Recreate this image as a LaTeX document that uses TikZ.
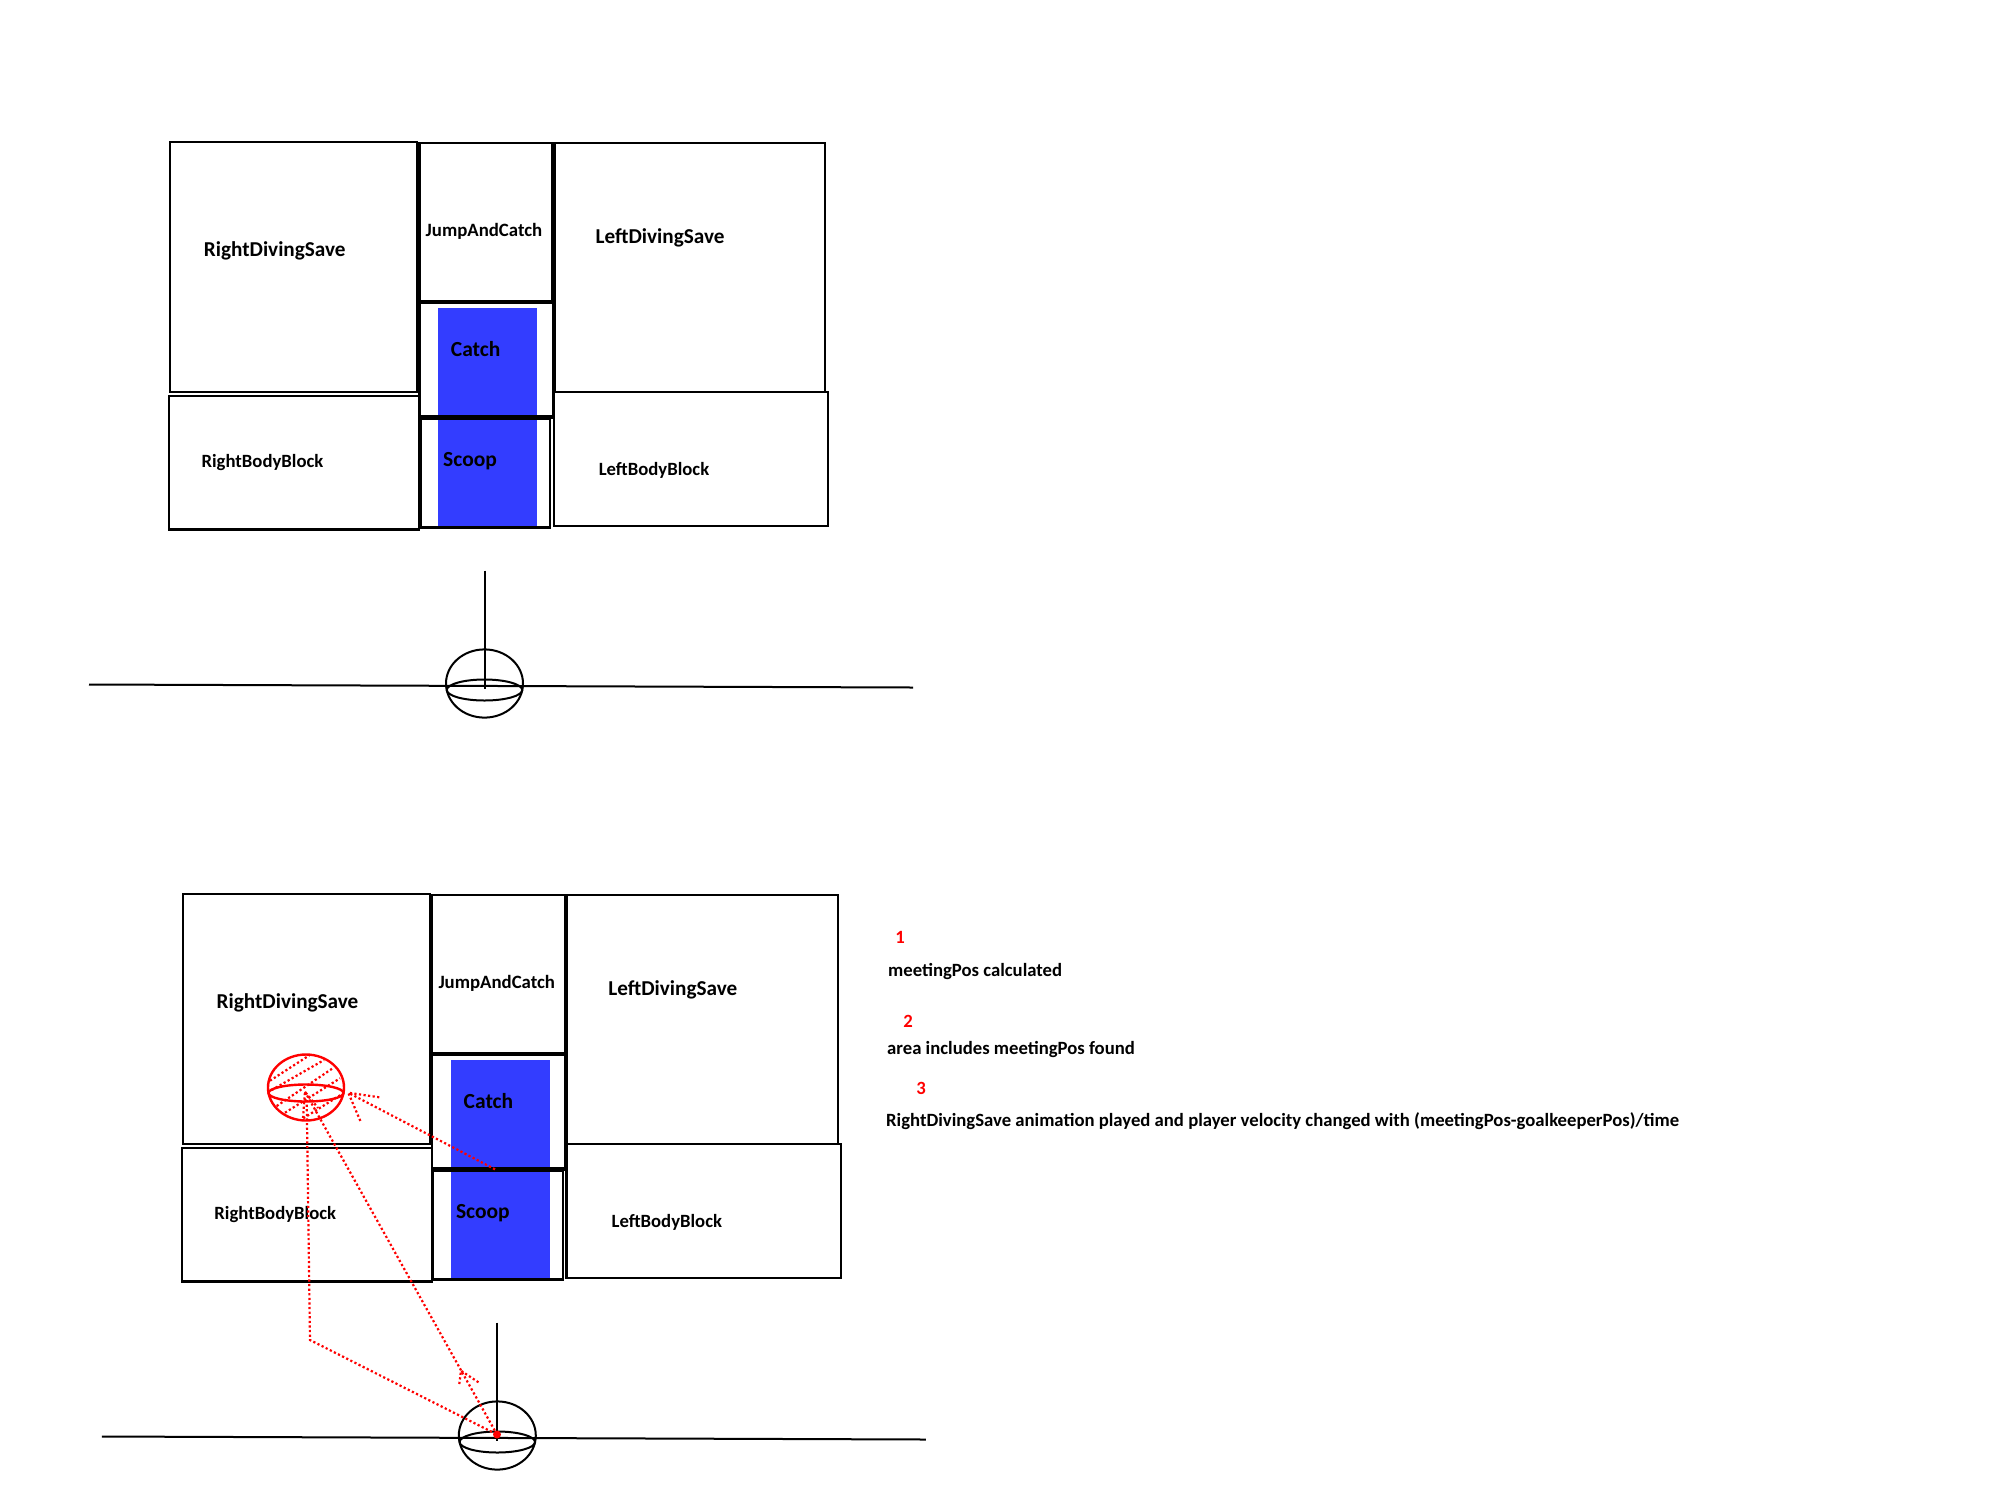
\documentclass[tikz,border=0pt]{standalone}
\usepackage{fontspec}
\setmainfont{Carlito}[BoldFont=Carlito Bold]
\definecolor{goalblue}{RGB}{51,61,255}
\tikzset{
  x=1pt,y=-1pt,
  thinbox/.style={draw=black,line width=2.2pt},
  thickedge/.style={draw=black,line width=4pt},
  ballline/.style={draw=black,line width=2pt},
  redball/.style={draw=red,line width=2.4pt},
  reddots/.style={draw=red,line width=2.2pt,dash pattern=on 2.2pt off 2.4pt},
  lbl/.style={anchor=west,inner sep=0pt,font=\bfseries\fontsize{#1}{#1}\selectfont},
  note/.style={anchor=west,inner sep=0pt,font=\bfseries\fontsize{18.7}{18.7}\selectfont},
  num/.style={anchor=center,inner sep=0pt,text=red,font=\bfseries\fontsize{18.7}{18.7}\selectfont},
}
\newcommand{\goalgroup}{%
  \fill[goalblue] (438,307.5) rectangle (537,528.5);
  \draw[thinbox] (170,141.8) rectangle (417,392);
  \draw[thinbox] (169,396.2) rectangle (419,529.5);
  \draw[thinbox] (554.5,143) rectangle (825,391.7);
  \draw[thinbox] (553.6,392.1) rectangle (828,526.2);
  \draw[thinbox] (420.4,418.4) rectangle (550,527.5);
  \draw[thinbox] (419.5,302) rectangle (552.7,416.8);
  \draw[thinbox] (418.6,143) rectangle (552.7,301.7);
  \draw[thickedge] (418.6,143) -- (418.6,301.7) -- (552.7,301.7) -- (552.7,143);
  \draw[thickedge] (419.5,416.8) -- (552.7,416.8);
  \node[lbl=21.2] (rds) at (203.7,251) {RightDivingSave};
  \node[lbl=18.8] (jac) at (425.5,231.7) {JumpAndCatch};
  \node[lbl=21.2] (lds) at (595.4,238) {LeftDivingSave};
  \node[lbl=21.5] (cat) at (450.7,349.5) {Catch};
  \node[lbl=21.5] (sco) at (443,461) {Scoop};
  \node[lbl=18.7] (rbb) at (201.4,462.5) {RightBodyBlock};
  \node[lbl=18.7] (lbb) at (598.6,470.8) {LeftBodyBlock};
  \draw[ballline] (89,684.5) -- (913,687.5);
  \draw[ballline] (484.5,570.6) -- (484.5,689);
  \draw[ballline] (484.5,683.5) ellipse [x radius=38.5pt,y radius=34.1pt];
  \draw[ballline] (484.5,690) ellipse [x radius=37.7pt,y radius=10.5pt];
}
\begin{document}
\begin{tikzpicture}
\useasboundingbox (0,0) rectangle (2000,1500);
\begin{scope}
  \goalgroup
\end{scope}
\begin{scope}[shift={(12.8pt,-752pt)}]
  \goalgroup
\end{scope}
% meeting point marker
\draw[redball] (306,1087.5) ellipse [x radius=38pt,y radius=33pt];
\draw[redball] (306,1093) ellipse [x radius=37.5pt,y radius=8.5pt];
\foreach \a/\b/\c/\d in {270/1080.7/309.3/1055.3, 271.7/1090/324/1060, 276.7/1106/332.7/1068.3, 285/1112.7/340/1078.3, 303.3/1118.3/343.3/1093.3}
  \draw[reddots] (\a,\b) -- (\c,\d);
% paths
\coordinate (ballc) at (497,1434.5);
\coordinate (meet) at (305,1091.7);
\coordinate (knee) at (310,1340);
\coordinate (tipa) at (348.3,1092.7);
\coordinate (taila) at (495,1169.3);
\draw[reddots] (ballc) -- (meet);
\draw[reddots] (306.7,1100) -- (knee) -- (ballc);
\draw[reddots] (taila) -- (tipa);
\draw[reddots] (379.3,1097.3) -- (tipa) -- (360.7,1121.7);
\draw[reddots] (303,1118) -- (meet) -- (318,1108);
\draw[reddots] (459.3,1384) -- (461,1370.7) -- (480,1383.3);
\fill[red] (ballc) circle [radius=4pt];
% notes
\node[num] (n1) at (900,937.5) {1};
\node[note] (t1) at (888,971) {meetingPos calculated};
\node[num] (n2) at (908,1021) {2};
\node[note] (t2) at (887,1049) {area includes meetingPos found};
\node[num] (n3) at (921,1088) {3};
\node[note] (t3) at (886,1121.5) {RightDivingSave animation played and player velocity changed with (meetingPos-goalkeeperPos)/time};
\end{tikzpicture}
\end{document}
